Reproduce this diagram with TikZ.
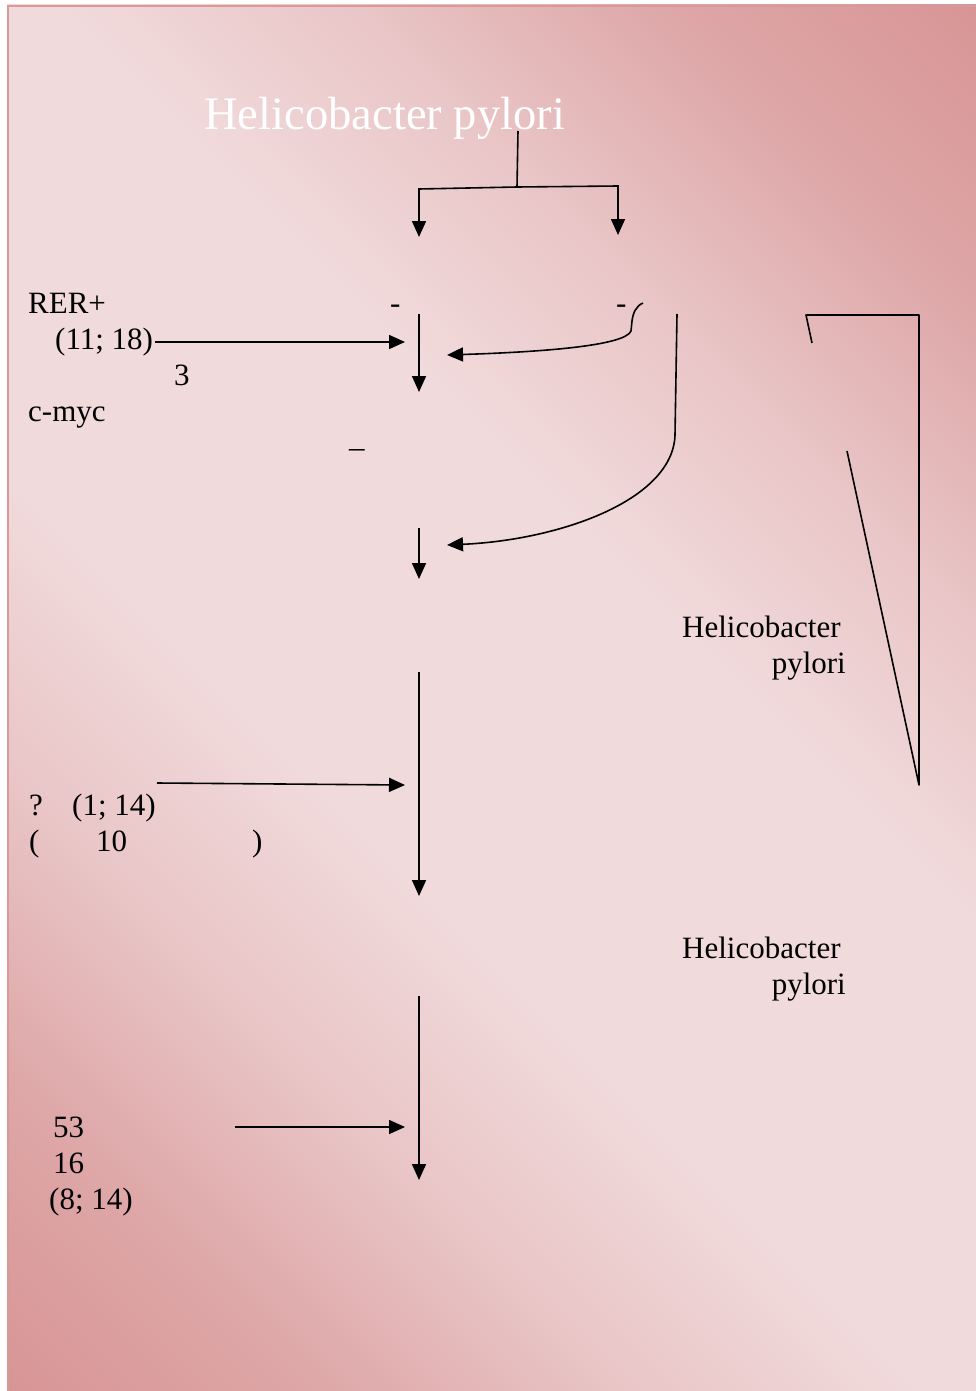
\documentclass[tikz,border=0pt]{standalone}
\usepackage{fontspec}
\setmainfont{Liberation Serif}
\usetikzlibrary{arrows.meta}
\definecolor{bgdark}{HTML}{D89494}
\definecolor{bgmidtwo}{HTML}{DEA7A8}
\definecolor{bgmidone}{HTML}{E9C5C6}
\definecolor{bglight}{HTML}{F1DADB}
\definecolor{bordercol}{HTML}{DA9898}
\pgfdeclareverticalshading{bgshade}{100bp}{color(0bp)=(bgdark); color(14bp)=(bgdark); color(24bp)=(bgmidtwo); color(33bp)=(bgmidone); color(42bp)=(bglight); color(58bp)=(bglight); color(67bp)=(bgmidone); color(76bp)=(bgmidtwo); color(86bp)=(bgdark); color(100bp)=(bgdark)}
\begin{document}
\begin{tikzpicture}[x=1pt,y=-1pt,
  txt/.style={inner sep=0pt, anchor=base west, font=\fontsize{31}{36}\selectfont},
  txtr/.style={inner sep=0pt, anchor=base east, font=\fontsize{31}{36}\selectfont},
  conn/.style={line width=1.6pt, black},
  arr/.style={conn, -{Triangle[length=16pt,width=14pt]}}]
\useasboundingbox (0,0) rectangle (976,1391);
\shade[shading=bgshade, shading angle=-45] (7,5) rectangle (976,1391);
\draw[bordercol, line width=2pt] (8,1391) -- (8,6) -- (976,6);

% title
\node[txt, font=\fontsize{46.6}{50}\selectfont, text=white] (title) at (204,130) {Helicobacter pylori};

% top fork
\coordinate (t0) at (518,131);
\coordinate (t1) at (517,187);
\coordinate (tl) at (419,189);
\coordinate (tr) at (618,186);
\coordinate (tla) at (419,237);
\coordinate (tra) at (618,235);
\draw[conn] (t0) -- (t1);
\draw[arr] (t1) -- (tl) -- (tla);
\draw[arr] (t1) -- (tr) -- (tra);

% left texts, first group
\node[txt] (rer) at (28,313) {RER+};
\node[txt] (r1118) at (55,349) {(11; 18)};
\node[txt] (three) at (174,385) {3};
\node[txt] (cmyc) at (28,421) {c-myc};
\node[txt] (dashA) at (390,313) {-};
\node[txt] (dashB) at (616,313) {-};
\node[txt] (dashC) at (349,457) {–};

% arrows, first group
\coordinate (h1s) at (155,342);
\coordinate (h1e) at (405,342);
\draw[arr] (h1s) -- (h1e);
\coordinate (v1s) at (419,314);
\coordinate (v1e) at (419,392);
\draw[arr] (v1s) -- (v1e);

% bracket curve
\coordinate (b0) at (643,303);
\coordinate (b1) at (632,321);
\coordinate (b2) at (631,331);
\coordinate (b3) at (447,355);
\draw[arr] (b0) .. controls (636,306) and (633,313) .. (b1) -- (b2) .. controls (625,346) and (540,352) .. (b3);

% long curve
\coordinate (c0) at (677,314);
\coordinate (c1) at (675,435);
\coordinate (c2) at (447,545);
\draw[arr] (c0) -- (c1) .. controls (673,500) and (560,540) .. (c2);

\coordinate (v2s) at (419,528);
\coordinate (v2e) at (419,579);
\draw[arr] (v2s) -- (v2e);

% right outline
\coordinate (s0) at (812,343);
\coordinate (s1) at (806,315);
\coordinate (s2) at (919,315);
\coordinate (s3) at (919,785);
\coordinate (s4) at (847,451);
\draw[conn, line join=round] (s0) -- (s1) -- (s2) -- (s3) -- (s4);

% right texts
\node[txt] (hp1a) at (682,637) {Helicobacter};
\node[txtr] (hp1b) at (846,673) {pylori};
\node[txt] (hp2a) at (682,958) {Helicobacter};
\node[txtr] (hp2b) at (846,994) {pylori};

% middle group
\coordinate (v3s) at (419,672);
\coordinate (v3e) at (419,896);
\draw[arr] (v3s) -- (v3e);
\coordinate (h2s) at (157,783);
\coordinate (h2e) at (405,785);
\draw[arr] (h2s) -- (h2e);
\node[txt] (q) at (29,815) {?};
\node[txt] (r114) at (72,815) {(1; 14)};
\node[txt] (pa) at (29,851) {(};
\node[txt] (ten) at (96,851) {10};
\node[txt] (pb) at (252,851) {)};

% bottom group
\coordinate (v4s) at (419,996);
\coordinate (v4e) at (419,1180);
\draw[arr] (v4s) -- (v4e);
\coordinate (h3s) at (235,1127);
\coordinate (h3e) at (405,1127);
\draw[arr] (h3s) -- (h3e);
\node[txt] (n53) at (53,1137) {53};
\node[txt] (n16) at (53,1173) {16};
\node[txt] (r814) at (49,1209) {(8; 14)};
\end{tikzpicture}
\end{document}
